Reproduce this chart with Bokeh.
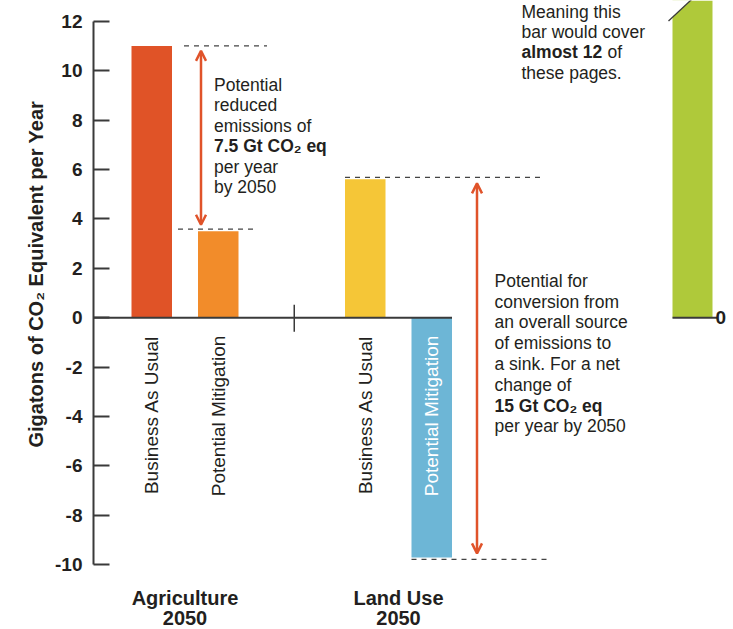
import math
from bokeh.plotting import figure
from bokeh.models import Range1d, Label, FixedTicker, Arrow, OpenHead, ColumnDataSource, Title
from bokeh.embed import file_html
from bokeh.resources import INLINE
from bokeh.core.properties import value

# ---- data ----
sectors = ["Agriculture", "Land Use"]
sector_years = ["2050", "2050"]
scenarios = ["Business As Usual", "Potential Mitigation"]
agriculture_gt = [11.0, 3.5]
land_use_gt = [5.6, -9.7]
offpage_gt = [260.0]
y_ticks = [-10, -8, -6, -4, -2, 0, 2, 4, 6, 8, 10, 12]
y_tick_labels = ["-10", "-8", "-6", "-4", "-2", "0", "2", "4", "6", "8", "10", "12"]

# ---- styles / layout ----
FONT = "Liberation Sans"
INK = "#231f20"
AXIS = "#3a3a3a"
ARROW = "#e0532a"
bar_colors = ["#e05327", "#f28c2a", "#f5c637", "#6db6d6"]
label_colors = [INK, INK, INK, "#ffffff"]
PX = 24.709            # pixels per Gt on the y scale
Z0 = 317.2             # pixel row of the zero line
BL_FIX = 6.5           # baseline correction for text placement
GROUP0 = 91.5
GROUP_STEP = 213.5
SUB_STEP = 66.5
BAR_W = 40.5
OFFPAGE_X = 599
OFFPAGE_W = 40

p = figure(width=733, height=629, x_range=Range1d(0, 640),
           y_range=Range1d((Z0 - 629) / PX, Z0 / PX),
           output_backend="svg", toolbar_location=None,
           x_axis_location=None, y_axis_location="left",
           min_border_left=93, min_border_right=0,
           min_border_top=0, min_border_bottom=0)
p.outline_line_color = None
p.grid.visible = False

ax = p.yaxis[0]
ax.ticker = FixedTicker(ticks=y_ticks)
ax.major_label_overrides = {t: l for t, l in zip(y_ticks, y_tick_labels)}
ax.bounds = (y_ticks[0], y_ticks[-1])
ax.major_tick_in = 16
ax.major_tick_out = 0
ax.minor_tick_line_color = None
ax.axis_line_width = 2
ax.axis_line_color = AXIS
ax.major_tick_line_width = 2
ax.major_tick_line_color = AXIS
ax.major_label_text_font = FONT
ax.major_label_text_font_style = "bold"
ax.major_label_text_font_size = "19px"
ax.major_label_text_color = INK
ax.major_label_standoff = 11

p.add_layout(Title(text="Gigatons of CO\u2082 Equivalent per Year", align="left",
                   offset=182, text_font=FONT, text_font_size="20px",
                   text_font_style="bold", text_color=INK, standoff=12), "left")

# ---- bars ----
values = agriculture_gt + land_use_gt
xs = [GROUP0 + gi * GROUP_STEP + (si - 0.5) * SUB_STEP
      for gi in range(len(sectors)) for si in range(len(scenarios))]
src = ColumnDataSource(dict(x=xs, top=values, color=bar_colors,
                            label=scenarios * len(sectors), lc=label_colors))
p.vbar(x="x", top="top", bottom=0, width=BAR_W, fill_color="color",
       line_color=None, source=src)

# zero line and group separator
p.segment(x0=0, y0=0, x1=xs[-1] + BAR_W / 2, y1=0, line_color=AXIS, line_width=2)
sep_x = GROUP0 + GROUP_STEP / 2 + 2.5
p.segment(x0=sep_x, y0=13 / PX, x1=sep_x, y1=-14 / PX, line_color=AXIS, line_width=1.5)

# rotated scenario labels
p.text(x="x", y=-18 / PX, text="label", angle=math.pi / 2, text_align="right",
       text_baseline="middle", text_font=value(FONT), text_font_size="19px",
       text_color="lc", source=src)

def ylab(px):
    return (Z0 - px) / PX

def ytext(px):
    return ylab(px - BL_FIX)

# group labels
gx = [GROUP0 + gi * GROUP_STEP for gi in range(len(sectors))]
p.text(x=gx, y=[ytext(604)] * len(gx), text=sectors, text_align="center",
       text_baseline="alphabetic", text_font=value(FONT), text_font_size="20px",
       text_font_style="bold", text_color=INK)
p.text(x=gx, y=[ytext(624)] * len(gx), text=sector_years, text_align="center",
       text_baseline="alphabetic", text_font=value(FONT), text_font_size="20px",
       text_font_style="bold", text_color=INK)

# ---- dashed reference lines ----
g = 2 / PX
dash = dict(line_color="#444444", line_width=1.2, line_dash="5 5")
x_r0 = xs[0] + BAR_W / 2
p.segment(x0=x_r0 + 12, y0=values[0], x1=x_r0 + 95, y1=values[0], **dash)
p.segment(x0=xs[1] - BAR_W / 2 - 20, y0=values[1] + g, x1=xs[1] + BAR_W / 2 + 16,
          y1=values[1] + g, **dash)
p.segment(x0=xs[2] - BAR_W / 2, y0=values[2] + g, x1=xs[2] - BAR_W / 2 + 198,
          y1=values[2] + g, **dash)
p.segment(x0=xs[3] - BAR_W / 2, y0=values[3] - g, x1=xs[3] - BAR_W / 2 + 140,
          y1=values[3] - g, **dash)

# ---- arrows ----
def dbl_arrow(x, y0, y1):
    p.add_layout(Arrow(x_start=x, y_start=y0, x_end=x, y_end=y1,
                       line_color=ARROW, line_width=2.5,
                       start=OpenHead(size=10, line_color=ARROW, line_width=2.5),
                       end=OpenHead(size=10, line_color=ARROW, line_width=2.5)))

dbl_arrow(x_r0 + 29, values[0] - 5 / PX, values[1] + 6.5 / PX)
dbl_arrow(xs[3] + BAR_W / 2 + 25, values[2] - 4 / PX, values[3] + 4 / PX)

# ---- annotation text ----
def add_lines(x, first_baseline_px, lines, step):
    for i, segs in enumerate(lines):
        for txt, bold, off in segs:
            p.add_layout(Label(x=x + off, y=ytext(first_baseline_px + i * step), text=txt,
                               text_font=FONT, text_font_size="17.5px",
                               text_font_style="bold" if bold else "normal",
                               text_color=INK, text_align="left",
                               text_baseline="alphabetic"))

add_lines(x_r0 + 42, 90.7, [
    [("Potential", False, 0)],
    [("reduced", False, 0)],
    [("emissions of", False, 0)],
    [("7.5 Gt CO\u2082 eq", True, 0)],
    [("per year", False, 0)],
    [("by 2050", False, 0)],
], 20.5)

add_lines(428, 17.5, [
    [("Meaning this", False, 0)],
    [("bar would cover", False, 0)],
    [("almost 12", True, 0), ("of", False, 86)],
    [("these pages.", False, 0)],
], 20.4)

add_lines(401, 286.7, [
    [("Potential for", False, 0)],
    [("conversion from", False, 0)],
    [("an overall source", False, 0)],
    [("of emissions to", False, 0)],
    [("a sink. For a net", False, 0)],
    [("change of", False, 0)],
    [("15 Gt CO\u2082 eq", True, 0)],
    [("per year by 2050", False, 0)],
], 20.8)

# ---- off-page bar ----
p.vbar(x=[OFFPAGE_X], top=offpage_gt, bottom=0, width=OFFPAGE_W,
       fill_color="#afc93a", line_color=None)
lx = OFFPAGE_X - OFFPAGE_W / 2
y_a = ylab(20.5)
slope = (ylab(0) - y_a) / 22.0
y_top = 13.5
p.patch(x=[lx - 1, lx - 1, lx - 4 + (y_top - y_a) / slope],
        y=[y_a + slope * 3, y_top, y_top], fill_color="white", line_color=None)
p.segment(x0=lx - 4, y0=y_a, x1=lx - 4 + (y_top - y_a) / slope, y1=y_top,
          line_color=AXIS, line_width=1.3)
p.segment(x0=lx, y0=0, x1=lx + 45, y1=0, line_color=AXIS, line_width=2)
p.add_layout(Label(x=lx + 43, y=0, text="0", text_align="left", text_baseline="middle",
                   text_font=FONT, text_font_size="19px", text_font_style="bold",
                   text_color=INK))

open("out.html", "w").write(file_html(p, INLINE))
